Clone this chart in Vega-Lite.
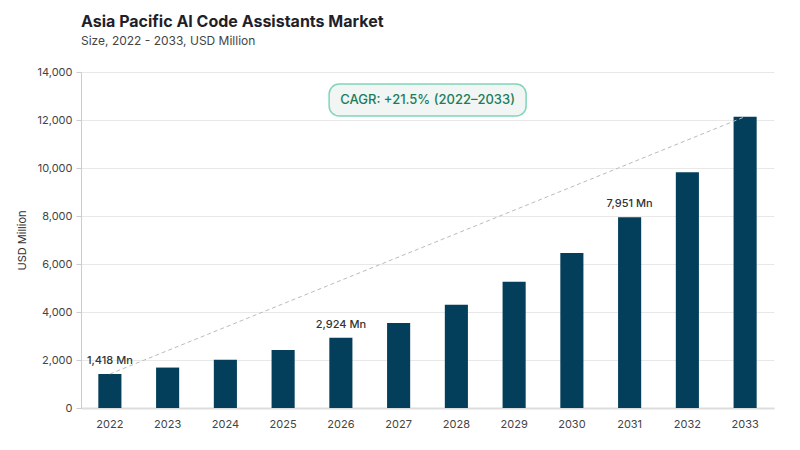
{
  "$schema": "https://vega.github.io/schema/vega-lite/v6.json",
  "autosize": "none",
  "width": 693,
  "height": 336,
  "padding": {"left": 81, "top": 72, "right": 26, "bottom": 42},
  "background": "white",
  "config": {
    "font": "Inter",
    "view": {"stroke": null},
    "axis": {"labelFont": "Inter", "titleFont": "Inter"}
  },
  "title": {
    "text": "Asia Pacific AI Code Assistants Market",
    "subtitle": "Size, 2022 - 2033, USD Million",
    "anchor": "start",
    "frame": "group",
    "font": "Inter",
    "fontSize": 16,
    "fontWeight": 700,
    "color": "#1f1f2b",
    "subtitleFont": "Inter",
    "subtitleFontSize": 12,
    "subtitleColor": "#444444",
    "subtitlePadding": 6,
    "offset": 19
  },
  "datasets": {
    "market": [
      {"year": "2022", "value": 1418, "note": "1,418 Mn"},
      {"year": "2023", "value": 1685, "note": ""},
      {"year": "2024", "value": 2010, "note": ""},
      {"year": "2025", "value": 2415, "note": ""},
      {"year": "2026", "value": 2924, "note": "2,924 Mn"},
      {"year": "2027", "value": 3545, "note": ""},
      {"year": "2028", "value": 4300, "note": ""},
      {"year": "2029", "value": 5260, "note": ""},
      {"year": "2030", "value": 6455, "note": ""},
      {"year": "2031", "value": 7951, "note": "7,951 Mn"},
      {"year": "2032", "value": 9820, "note": ""},
      {"year": "2033", "value": 12140, "note": ""}
    ],
    "trend": [
      {"year": "2022", "value": 1418},
      {"year": "2033", "value": 12140}
    ],
    "cagrBox": [
      {"year": "2027", "value": 13500, "value2": 12167}
    ],
    "cagrText": [
      {"year": "2027", "value": 12833, "note": "CAGR: +21.5% (2022–2033)"}
    ]
  },
  "encoding": {
    "x": {
      "field": "year",
      "type": "ordinal",
      "scale": {"paddingInner": 0.6, "paddingOuter": 0.3},
      "axis": {
        "title": null,
        "labelAngle": 0,
        "labelFontSize": 11,
        "labelColor": "#444444",
        "labelPadding": 10,
        "ticks": false,
        "domainColor": "#dddddd",
        "domainWidth": 2
      }
    },
    "y": {
      "field": "value",
      "type": "quantitative",
      "scale": {"domain": [0, 14000], "nice": false},
      "axis": {
        "title": "USD Million",
        "titleFontSize": 11,
        "titleFontWeight": 400,
        "titleColor": "#333333",
        "titlePadding": 10,
        "format": ",.0f",
        "values": [0, 2000, 4000, 6000, 8000, 10000, 12000, 14000],
        "labelFontSize": 11,
        "labelColor": "#444444",
        "labelPadding": 4,
        "tickSize": 5,
        "tickColor": "#cccccc",
        "domainColor": "#cccccc",
        "gridColor": "#e8e8e8"
      }
    }
  },
  "layer": [
    {
      "data": {"name": "market"},
      "mark": {"type": "bar", "color": "#033e5b"}
    },
    {
      "data": {"name": "trend"},
      "mark": {"type": "line", "color": "#bbbbbb", "strokeDash": [4, 3], "strokeWidth": 1}
    },
    {
      "data": {"name": "market"},
      "mark": {"type": "text", "baseline": "bottom", "dy": -8, "fontSize": 11, "fontWeight": 500, "color": "#333333"},
      "encoding": {
        "text": {"field": "note"}
      }
    },
    {
      "data": {"name": "cagrBox"},
      "mark": {"type": "bar", "width": 197, "xOffset": 29, "cornerRadius": 10, "fill": "#f1f5f4", "stroke": "#7fd6b9", "strokeWidth": 1.5},
      "encoding": {
        "y2": {"field": "value2"}
      }
    },
    {
      "data": {"name": "cagrText"},
      "mark": {"type": "text", "xOffset": 29, "fontSize": 13, "fontWeight": 500, "color": "#1b7d5c", "baseline": "middle"},
      "encoding": {
        "text": {"field": "note"}
      }
    }
  ]
}
